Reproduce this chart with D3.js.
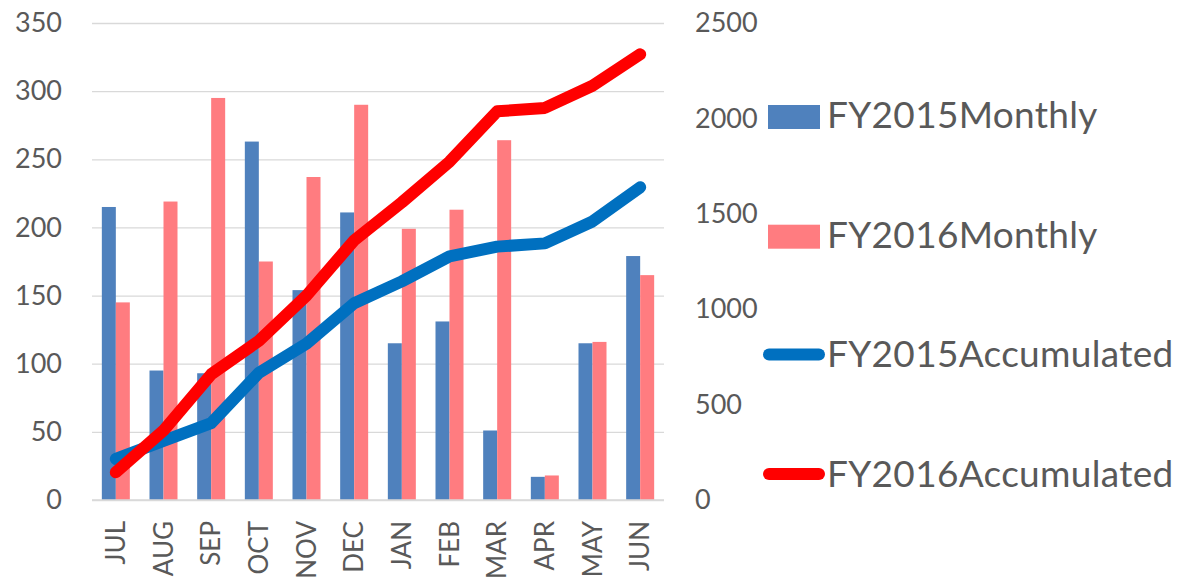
<!DOCTYPE html>
<html>
<head>
<meta charset="utf-8">
<script src="https://cdn.jsdelivr.net/npm/d3@7"></script>
<style>
  body { margin: 0; background: #fff; }
  svg text { font-family: Lato, "Open Sans", sans-serif; fill: #595959; }
</style>
</head>
<body>
<div id="chart"></div>
<script>
// month labels and series
var months = ["JUL", "AUG", "SEP", "OCT", "NOV", "DEC", "JAN", "FEB", "MAR", "APR", "MAY", "JUN"];
var fy2015Monthly = [215, 95, 93, 263, 154, 211, 115, 131, 51, 17, 115, 179];
var fy2016Monthly = [145, 219, 295, 175, 237, 290, 199, 213, 264, 18, 116, 165];
var fy2015Accum = [215, 310, 403, 666, 820, 1031, 1146, 1277, 1328, 1345, 1460, 1639];
var fy2016Accum = [145, 364, 659, 834, 1071, 1361, 1560, 1773, 2037, 2055, 2171, 2336];
var leftTicks = [0, 50, 100, 150, 200, 250, 300, 350];
var rightTicks = [0, 500, 1000, 1500, 2000, 2500];

function drawChart(){
	var svgWidth = 1182;
	var svgHeight = 582;
	var plot = {left: 92, right: 664, top: 23, bottom: 500};
	var barW = 14;

	var svg = d3.select("#chart")
		.append("svg")
		.attr("width", svgWidth)
		.attr("height", svgHeight);

	var xScale = d3.scaleBand()
		.domain(months)
		.range([plot.left, plot.right])
		.padding(0);

	var yLeft = d3.scaleLinear()
		.domain([0, 350])
		.range([plot.bottom, plot.top]);

	var yRight = d3.scaleLinear()
		.domain([0, 2500])
		.range([plot.bottom, plot.top]);

	// gridlines
	svg.append("g")
		.attr("class", "grid")
		.attr("transform", "translate(" + plot.left + ",0)")
		.call(d3.axisLeft(yLeft).tickValues(leftTicks).tickSize(-(plot.right - plot.left)).tickFormat(""))
		.call(function(g){ g.select(".domain").remove(); })
		.selectAll("line")
		.attr("stroke", "#d9d9d9")
		.attr("stroke-width", 1.3);

	// left axis labels
	svg.append("g")
		.attr("transform", "translate(" + 62 + ",0)")
		.call(d3.axisLeft(yLeft).tickValues(leftTicks).tickSize(0).tickPadding(0).tickFormat(d3.format("d")))
		.call(function(g){ g.select(".domain").remove(); })
		.selectAll("text")
		.style("font-size", "27px")
		.style("fill", "#595959");

	// right axis labels
	svg.append("g")
		.attr("transform", "translate(" + 695 + ",0)")
		.call(d3.axisRight(yRight).tickValues(rightTicks).tickSize(0).tickPadding(0).tickFormat(d3.format("d")))
		.call(function(g){ g.select(".domain").remove(); })
		.selectAll("text")
		.style("font-size", "27px")
		.style("fill", "#595959");

	// bars
	var mid = xScale.bandwidth() / 2;
	svg.append("g").selectAll("rect")
		.data(fy2015Monthly)
		.enter()
		.append("rect")
		.attr("x", function(d, i){ return xScale(months[i]) + mid - barW; })
		.attr("y", function(d){ return yLeft(d); })
		.attr("width", barW)
		.attr("height", function(d){ return yLeft(0) - yLeft(d); })
		.attr("fill", "#4f81bd");

	svg.append("g").selectAll("rect")
		.data(fy2016Monthly)
		.enter()
		.append("rect")
		.attr("x", function(d, i){ return xScale(months[i]) + mid; })
		.attr("y", function(d){ return yLeft(d); })
		.attr("width", barW)
		.attr("height", function(d){ return yLeft(0) - yLeft(d); })
		.attr("fill", "#ff7c80");

	// x axis line
	svg.append("line")
		.attr("x1", plot.left).attr("x2", plot.right)
		.attr("y1", yLeft(0)).attr("y2", yLeft(0))
		.attr("stroke", "#d9d9d9")
		.attr("stroke-width", 1.3);

	// month labels, rotated
	svg.append("g").selectAll("text")
		.data(months)
		.enter()
		.append("text")
		.attr("transform", function(d){
			return "translate(" + (xScale(d) + mid + 9) + "," + 521 + ") rotate(-90)";
		})
		.style("text-anchor", "end")
		.style("font-size", "26px")
		.text(function(d){ return d; });

	// accumulated lines
	var line = d3.line()
		.x(function(d, i){ return xScale(months[i]) + mid; })
		.y(function(d){ return yRight(d); });

	svg.append("path")
		.datum(fy2015Accum)
		.attr("d", line)
		.attr("fill", "none")
		.attr("stroke", "#0070c0")
		.attr("stroke-width", 12)
		.attr("stroke-linejoin", "round")
		.attr("stroke-linecap", "round");

	svg.append("path")
		.datum(fy2016Accum)
		.attr("d", line)
		.attr("fill", "none")
		.attr("stroke", "#ff0000")
		.attr("stroke-width", 12)
		.attr("stroke-linejoin", "round")
		.attr("stroke-linecap", "round");

	// legend
	var legendItems = [
		{name: "FY2015Monthly", color: "#4f81bd", type: "rect"},
		{name: "FY2016Monthly", color: "#ff7c80", type: "rect"},
		{name: "FY2015Accumulated", color: "#0070c0", type: "line"},
		{name: "FY2016Accumulated", color: "#ff0000", type: "line"}
	];

	var legend = svg.append("g").selectAll("g")
		.data(legendItems)
		.enter()
		.append("g")
		.attr("transform", function(d, i){ return "translate(0," + (128 + i * 119.7) + ")"; });

	legend.filter(function(d){ return d.type == "rect"; })
		.append("rect")
		.attr("x", 768)
		.attr("y", -23)
		.attr("width", 52)
		.attr("height", 24)
		.attr("fill", function(d){ return d.color; });

	legend.filter(function(d){ return d.type == "line"; })
		.append("line")
		.attr("x1", 769).attr("x2", 819)
		.attr("y1", -13).attr("y2", -13)
		.attr("stroke", function(d){ return d.color; })
		.attr("stroke-width", 12)
		.attr("stroke-linecap", "round");

	legend.append("text")
		.attr("x", 827)
		.attr("y", 0)
		.style("font-size", "37px")
		.style("letter-spacing", "0.3px")
		.text(function(d){ return d.name; });
}

drawChart();
</script>
</body>
</html>
